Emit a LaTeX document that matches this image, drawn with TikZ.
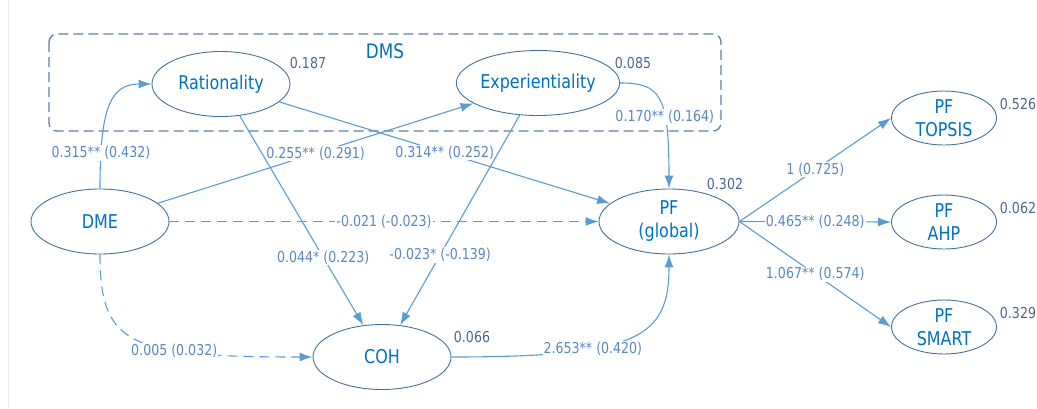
\documentclass[tikz,border=0pt]{standalone}
\usepackage{fontspec}
\setmainfont{DejaVu Sans}[FakeStretch=0.84]
\usetikzlibrary{shapes.geometric,arrows.meta}
\definecolor{pathblue}{HTML}{5B9BD5}
\definecolor{rimblue}{HTML}{41719C}
\definecolor{nameblue}{HTML}{0070C0}
\definecolor{valblue}{HTML}{5A87C0}
\definecolor{rsqgray}{HTML}{4A6690}
\definecolor{boxblue}{HTML}{5E7FA6}

\begin{document}
\begin{tikzpicture}[x=1pt,y=1pt,>={Latex[length=13pt,width=9pt]},
        latent/.style={ellipse,draw=rimblue,line width=0.9pt,text=nameblue,inner sep=0pt,
            minimum width=138pt,minimum height=65pt,align=center,font=\fontsize{19}{23}\selectfont},
        pfbox/.style={latent,minimum width=105pt,minimum height=54pt},
        rsq/.style={text=rsqgray,inner sep=0pt,font=\fontsize{15}{17}\selectfont},
        est/.style={fill=white,text=valblue,inner sep=1pt,font=\fontsize{15}{17}\selectfont},
        link/.style={->,pathblue,line width=1.1pt},
        nolink/.style={link,dash pattern=on 10pt off 6pt}]
        \useasboundingbox (0,0) rectangle (1037,-408);
        \draw[black!7] (8,0) -- (8,-408);
        % DMS group
        \draw[boxblue,line width=1.3pt,dash pattern=on 10pt off 5pt,rounded corners=8pt]
            (49,-34) rectangle (721,-131);
        \node[text=nameblue,font=\fontsize{20}{22}\selectfont] (dms) at (385,-51) {DMS};
        \path
        % constructs
        +(100,-221.5) node[latent] (DME) {DME}
        +(221,-84)    node[latent] (Rat) {Rationality}
        +(538,-83)    node[latent,minimum width=136pt] (Exp) {Experientiality}
        +(669,-221.5) node[latent,minimum width=140pt] (PF) {PF\\(global)}
        +(382,-357)   node[latent] (COH) {COH}
        % PF methods
        +(944,-118)   node[pfbox] (TOPSIS) {PF\\TOPSIS}
        +(944,-222)   node[pfbox] (AHP) {PF\\AHP}
        +(944,-327)   node[pfbox] (SMART) {PF\\SMART};

        % R squared
        \node[rsq] (r2rat) at (308,-63)  {0.187};
        \node[rsq] (r2exp) at (633,-63)  {0.085};
        \node[rsq] (r2pf)  at (725,-184) {0.302};
        \node[rsq] (r2coh) at (472,-337) {0.066};
        \node[rsq] (r2top) at (1018,-104) {0.526};
        \node[rsq] (r2ahp) at (1018,-208) {0.062};
        \node[rsq] (r2sma) at (1018,-313) {0.329};

        \draw[link] (DME.north) .. controls +(0,78.5) and +(-42,0) .. (Rat.west) node[est,pos=0.17]{0.315** (0.432)};
        \draw[link] (DME) -- (Exp) node[est,midway]{0.255** (0.291)};
        \draw[link] (Rat) -- (PF) node[est,midway]{0.314** (0.252)};
        \draw[link] (Rat) -- (COH) node[est,pos=0.676]{0.044* (0.223)};
        \draw[link] (Exp) -- (COH) node[est,pos=0.665]{-0.023* (-0.139)};
        \draw[link] (Exp.east) .. controls +(40,0) and +(0,94) .. (PF.north) node[est,pos=0.65]{0.170** (0.164)};
        \draw[nolink] (DME) -- (PF) node[est,midway]{-0.021 (-0.023)};
        \draw[nolink] (DME.south) .. controls +(0,-91.5) and +(-183,0) .. (COH.west) node[est,pos=0.66]{0.005 (0.032)};
        \draw[link] (COH.east) .. controls +(187,0) and +(0,-83) .. (PF.south) node[est,pos=0.34]{2.653** (0.420)};

        \draw[link] (PF.east) -- (TOPSIS.west) node[est,midway]{1 (0.725)};
        \draw[link] (PF.east) -- (AHP.west) node[est,midway]{0.465** (0.248)};
        \draw[link] (PF.east) -- (SMART.west) node[est,midway]{1.067** (0.574)};
    \end{tikzpicture}
\end{document}
